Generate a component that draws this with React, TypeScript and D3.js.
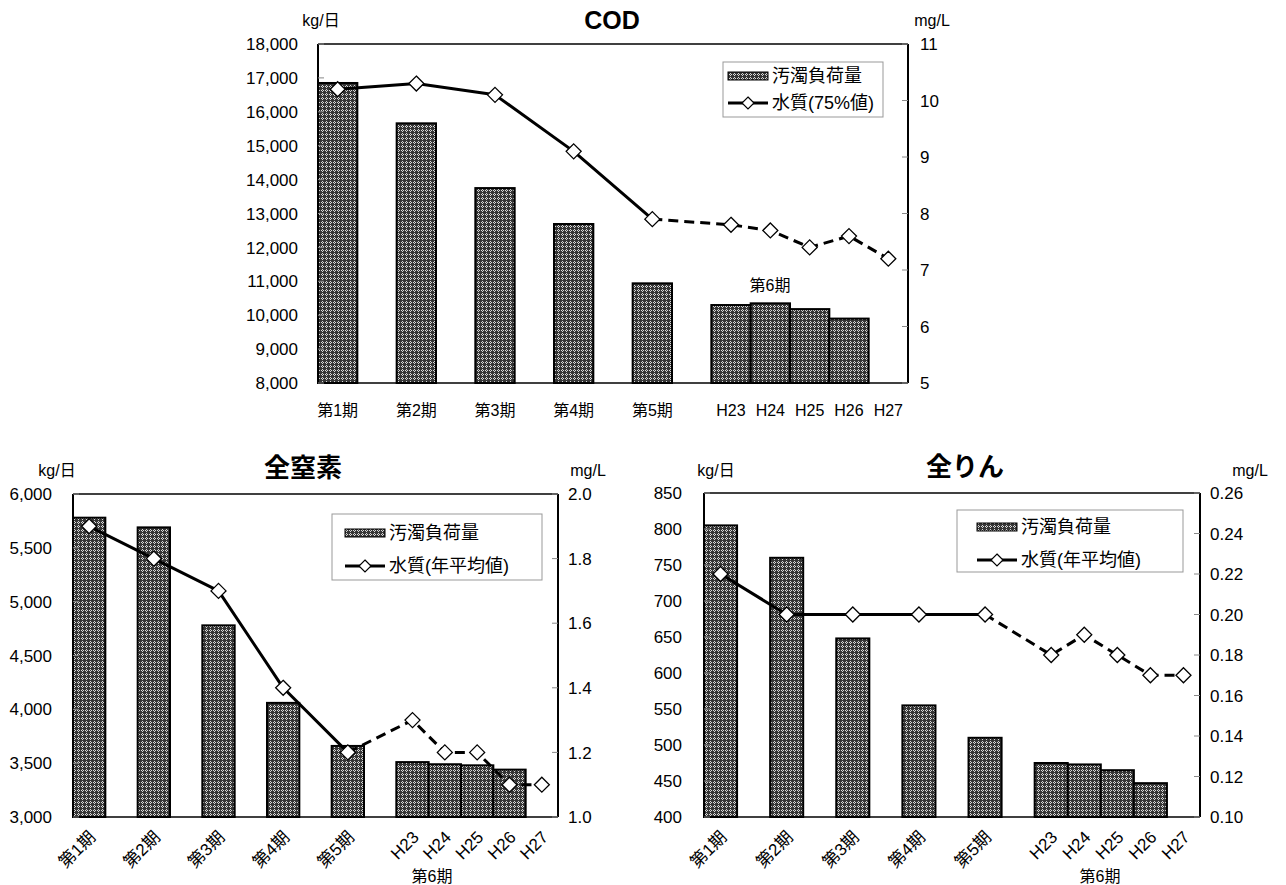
import React from "react";
import * as d3 from "d3";

const FONT = "'Liberation Sans', 'Noto Sans CJK JP', sans-serif";

// ---- data ----
const categories = ["第1期", "第2期", "第3期", "第4期", "第5期", "H23", "H24", "H25", "H26", "H27"];

const codLoad: (number | null)[] = [16850, 15660, 13750, 12690, 10940, 10300, 10350, 10180, 9900, null];
const codQuality = [10.2, 10.3, 10.1, 9.1, 7.9, 7.8, 7.7, 7.4, 7.6, 7.2];
const codLeftTicks = [8000, 9000, 10000, 11000, 12000, 13000, 14000, 15000, 16000, 17000, 18000];
const codRightTicks = [5, 6, 7, 8, 9, 10, 11];

const tnLoad: (number | null)[] = [5780, 5690, 4780, 4060, 3660, 3510, 3490, 3480, 3440, null];
const tnQuality = [1.9, 1.8, 1.7, 1.4, 1.2, 1.3, 1.2, 1.2, 1.1, 1.1];
const tnLeftTicks = [3000, 3500, 4000, 4500, 5000, 5500, 6000];
const tnRightTicks = [1.0, 1.2, 1.4, 1.6, 1.8, 2.0];

const tpLoad: (number | null)[] = [805, 760, 648, 555, 510, 475, 473, 465, 447, null];
const tpQuality = [0.22, 0.2, 0.2, 0.2, 0.2, 0.18, 0.19, 0.18, 0.17, 0.17];
const tpLeftTicks = [400, 450, 500, 550, 600, 650, 700, 750, 800, 850];
const tpRightTicks = [0.1, 0.12, 0.14, 0.16, 0.18, 0.2, 0.22, 0.24, 0.26];

const legendLoad = "汚濁負荷量";
const sixthPeriod = "第6期";

// slots: each of the first five periods followed by an empty slot, then the yearly values
const slots: string[] = categories.flatMap((c, i) => (i < 5 ? [c, `__gap${i}`] : [c]));

type Cfg = {
  id: string;
  left: number; top: number; right: number; bottom: number;
  load: (number | null)[];
  quality: number[];
  leftTicks: number[];
  rightTicks: number[];
  leftFmt: (v: number) => string;
  rightFmt: (v: number) => string;
  title: string;
  titleX: number; titleY: number; titleSize: number;
  unitLeftX: number; unitRightX: number; unitY: number;
  leftLabelGap: number; rightLabelGap: number;
  legend: { x: number; y: number; w: number; h: number; row1: number; row2: number; swatchX: number; text2: string };
  rotate: boolean;
  sixthX: number; sixthY: number;
};

function Chart({ c }: { c: Cfg }) {
  const x = d3.scaleBand<string>().domain(slots).range([c.left, c.right]).padding(0);
  const yL = d3.scaleLinear().domain([c.leftTicks[0], c.leftTicks[c.leftTicks.length - 1]]).range([c.bottom, c.top]);
  const yR = d3.scaleLinear().domain([c.rightTicks[0], c.rightTicks[c.rightTicks.length - 1]]).range([c.bottom, c.top]);
  const bw = x.bandwidth();
  const cx = (cat: string) => (x(cat) as number) + bw / 2;

  const pts = categories.map((cat, i) => [cx(cat), yR(c.quality[i])] as [number, number]);
  const line = d3.line();
  const solid = line(pts.slice(0, 5)) || "";
  const dashed = line(pts.slice(4)) || "";
  const diamond = (px: number, py: number, r = 7.5) =>
    `M${px},${py - r}L${px + r},${py}L${px},${py + r}L${px - r},${py}Z`;

  const L = c.legend;
  return (
    <g fontFamily={FONT}>
      {/* bars */}
      {categories.map((cat, i) => {
        const v = c.load[i];
        if (v == null) return null;
        const y0 = yL(v);
        return (
          <rect key={cat} x={x(cat) as number} y={y0} width={bw} height={c.bottom - y0}
            fill={`url(#pat)`} stroke="#000" strokeWidth={2} />
        );
      })}
      {/* frame */}
      <line x1={c.left} x2={c.right} y1={c.top} y2={c.top} stroke="#000" strokeWidth={1.6} />
      <line x1={c.left} x2={c.right} y1={c.bottom} y2={c.bottom} stroke="#000" strokeWidth={1.6} />
      <line x1={c.left} x2={c.left} y1={c.top} y2={c.bottom} stroke="#000" strokeWidth={2} />
      <line x1={c.right} x2={c.right} y1={c.top} y2={c.bottom} stroke="#000" strokeWidth={2} />
      {/* left ticks */}
      {c.leftTicks.map((t) => (
        <g key={"l" + t}>
          <line x1={c.left} x2={c.left + 6} y1={yL(t)} y2={yL(t)} stroke="#888" strokeWidth={1} />
          <text x={c.left - c.leftLabelGap} y={yL(t)} dy="0.36em" textAnchor="end" fontSize={17} fill="#000">
            {c.leftFmt(t)}
          </text>
        </g>
      ))}
      {c.rightTicks.map((t) => (
        <g key={"r" + t}>
          <line x1={c.right - 6} x2={c.right} y1={yR(t)} y2={yR(t)} stroke="#888" strokeWidth={1} />
          <text x={c.right + c.rightLabelGap} y={yR(t)} dy="0.36em" textAnchor="start" fontSize={17} fill="#000">
            {c.rightFmt(t)}
          </text>
        </g>
      ))}
      {/* category labels */}
      {categories.map((cat) =>
        c.rotate ? (
          <text key={"c" + cat} transform={`translate(${cx(cat) + 3},${c.bottom + 17}) rotate(-45)`}
            textAnchor="end" dy="0.36em" fontSize={17}>
            {cat}
          </text>
        ) : (
          <text key={"c" + cat} x={cx(cat)} y={c.bottom + 27} dy="0.36em" textAnchor="middle" fontSize={16}>
            {cat}
          </text>
        )
      )}
      <text x={c.sixthX} y={c.sixthY} dy="0.36em" textAnchor="middle" fontSize={16}>{sixthPeriod}</text>
      {/* line */}
      <path d={solid} fill="none" stroke="#000" strokeWidth={3} strokeLinejoin="round" />
      <path d={dashed} fill="none" stroke="#000" strokeWidth={3} strokeDasharray="10,6" />
      {pts.map(([px, py], i) => (
        <path key={"m" + i} d={diamond(px, py)} fill="#fff" stroke="#000" strokeWidth={1.3} />
      ))}
      {/* titles and units */}
      <text x={c.titleX} y={c.titleY} dy="0.36em" textAnchor="middle" fontSize={c.titleSize} fontWeight="bold">{c.title}</text>
      <text x={c.unitLeftX} y={c.unitY} dy="0.36em" textAnchor="middle" fontSize={16}>kg/日</text>
      <text x={c.unitRightX} y={c.unitY} dy="0.36em" textAnchor="middle" fontSize={16}>mg/L</text>
      {/* legend */}
      <rect x={L.x} y={L.y} width={L.w} height={L.h} fill="#fff" stroke="#999" strokeWidth={1} />
      <rect x={L.swatchX} y={L.row1 - 4} width={40} height={8} fill="url(#pat)" stroke="#000" strokeWidth={1} />
      <text x={L.swatchX + 44} y={L.row1} dy="0.36em" fontSize={18}>{legendLoad}</text>
      <line x1={L.swatchX} x2={L.swatchX + 40} y1={L.row2} y2={L.row2} stroke="#000" strokeWidth={3} />
      <path d={diamond(L.swatchX + 20, L.row2, 6)} fill="#fff" stroke="#000" strokeWidth={1.2} />
      <text x={L.swatchX + 44} y={L.row2} dy="0.36em" fontSize={18}>{L.text2}</text>
    </g>
  );
}

const fmtComma = d3.format(",");

const codCfg: Cfg = {
  id: "cod", left: 318, top: 44, right: 908, bottom: 383,
  load: codLoad, quality: codQuality, leftTicks: codLeftTicks, rightTicks: codRightTicks,
  leftFmt: (v) => fmtComma(v), rightFmt: d3.format("d"),
  title: "COD", titleX: 612, titleY: 20, titleSize: 25,
  unitLeftX: 321, unitRightX: 932, unitY: 20,
  leftLabelGap: 20, rightLabelGap: 12,
  legend: { x: 723, y: 62, w: 160, h: 55, row1: 76, row2: 103, swatchX: 728, text2: "水質(75%値)" },
  rotate: false, sixthX: 770, sixthY: 285,
};

const tnCfg: Cfg = {
  id: "tn", left: 73, top: 494, right: 558, bottom: 817,
  load: tnLoad, quality: tnQuality, leftTicks: tnLeftTicks, rightTicks: tnRightTicks,
  leftFmt: (v) => fmtComma(v), rightFmt: d3.format(".1f"),
  title: "全窒素", titleX: 303, titleY: 468, titleSize: 26,
  unitLeftX: 57, unitRightX: 588, unitY: 470,
  leftLabelGap: 21, rightLabelGap: 10,
  legend: { x: 332, y: 514, w: 210, h: 66, row1: 533, row2: 566, swatchX: 345, text2: "水質(年平均値)" },
  rotate: true, sixthX: 432, sixthY: 876,
};

const tpCfg: Cfg = {
  id: "tp", left: 704, top: 493, right: 1200, bottom: 817,
  load: tpLoad, quality: tpQuality, leftTicks: tpLeftTicks, rightTicks: tpRightTicks,
  leftFmt: (v) => fmtComma(v), rightFmt: d3.format(".2f"),
  title: "全りん", titleX: 965, titleY: 467, titleSize: 26,
  unitLeftX: 716, unitRightX: 1250, unitY: 470,
  leftLabelGap: 22, rightLabelGap: 10,
  legend: { x: 957, y: 510, w: 226, h: 62, row1: 527, row2: 560, swatchX: 977, text2: "水質(年平均値)" },
  rotate: true, sixthX: 1100, sixthY: 876,
};

export default function App() {
  return (
    <svg width={1286} height={885} style={{ position: "absolute", left: 0, top: 0, background: "#fff" }}>
      <defs>
        <pattern id="pat" width={4} height={4} patternUnits="userSpaceOnUse">
          <rect width={4} height={4} fill="#363636" />
          <rect x={2} y={1} width={1} height={1} fill="#d8d8d8" />
          <rect x={1} y={2} width={1} height={1} fill="#d8d8d8" />
          <rect x={3} y={2} width={1} height={1} fill="#d8d8d8" />
          <rect x={2} y={3} width={1} height={1} fill="#d8d8d8" />
        </pattern>
      </defs>
      <rect width={1286} height={885} fill="#fff" />
      <Chart c={codCfg} />
      <Chart c={tnCfg} />
      <Chart c={tpCfg} />
    </svg>
  );
}
